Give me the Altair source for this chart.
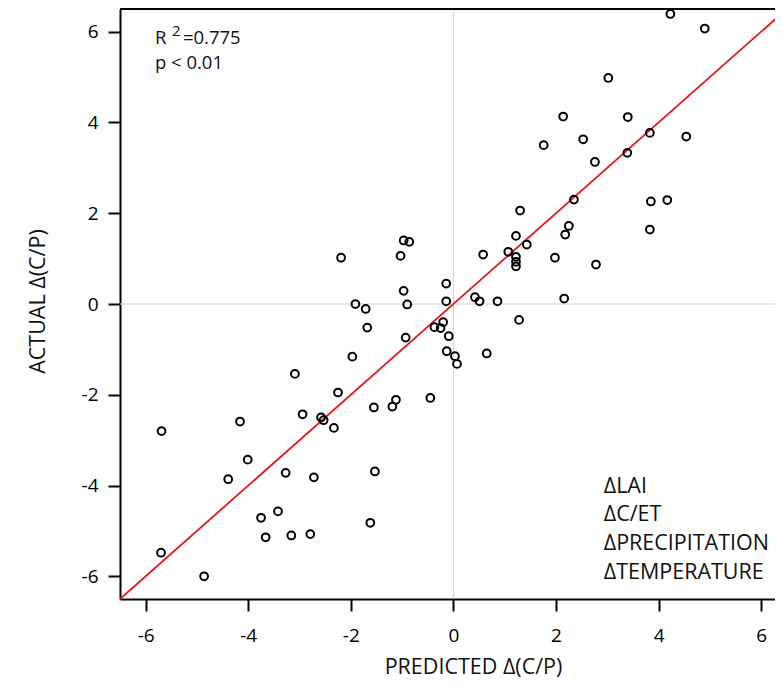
import altair as alt
import pandas as pd

# ---- data ----
predicted = [4.23, 4.90, 3.02, 2.14, 3.40, 3.83, 4.54, 2.53, 1.76, 3.39,
             2.76, 2.35, 3.85, 4.17, 1.30, 2.25, 2.18, 3.83, 1.22, 1.43,
             1.07, 0.58, 1.22, 1.22, 1.22, 1.98, 2.78, 2.16, 0.42, 0.51,
             0.86, 1.28, -0.14, -0.14, -0.97, -0.86, -1.03, -0.97, -0.90, -0.20,
             -0.37, -0.25, -0.09, -0.93, -0.13, 0.03, 0.07, 0.65, -1.12, -1.19,
             -0.45, -2.19, -1.91, -1.71, -1.68, -1.97, -3.09, -2.25, -2.94, -2.58,
             -2.53, -2.33, -1.55, -4.16, -5.69, -4.01, -4.39, -3.27, -2.72, -1.53,
             -3.75, -3.42, -3.66, -3.16, -2.79, -1.62, -5.70, -4.86]
actual = [6.39, 6.07, 4.98, 4.13, 4.12, 3.77, 3.69, 3.63, 3.50, 3.33,
          3.13, 2.30, 2.26, 2.29, 2.06, 1.72, 1.53, 1.64, 1.50, 1.31,
          1.15, 1.09, 1.04, 0.93, 0.83, 1.02, 0.87, 0.12, 0.15, 0.06,
          0.06, -0.35, 0.45, 0.06, 1.40, 1.37, 1.06, 0.29, -0.01, -0.40,
          -0.51, -0.53, -0.71, -0.74, -1.04, -1.15, -1.32, -1.09, -2.11, -2.26,
          -2.07, 1.02, 0.00, -0.11, -0.52, -1.16, -1.54, -1.95, -2.43, -2.50,
          -2.56, -2.73, -2.28, -2.59, -2.80, -3.43, -3.86, -3.72, -3.82, -3.69,
          -4.71, -4.57, -5.14, -5.10, -5.07, -4.82, -5.48, -6.00]

tick_values = [-6, -4, -2, 0, 2, 4, 6]
x_domain = [-6.5, 6.27]
y_domain = [-6.5, 6.5]
one_to_one = [-6.5, 6.5]

legend_labels = ["\u0394LAI", "\u0394C/ET", "\u0394PRECIPITATION", "\u0394TEMPERATURE"]
legend_x = [2.93, 2.93, 2.93, 2.93]
legend_y = [-4.16, -4.78, -5.42, -6.05]

stat_labels = ["R", "2", "=0.775", "p < 0.01"]
stat_x = [-5.82, -5.82, -5.82, -5.82]
stat_y = [5.72, 5.72, 5.72, 5.17]

FONT = "Open Sans"
W, H = 655, 590

pts = pd.DataFrame({"p": predicted, "a": actual})
line_df = pd.DataFrame({"p": one_to_one, "a": one_to_one})
zero_df = pd.DataFrame({"z": [0]})
leg_df = pd.DataFrame({"t": legend_labels, "x": legend_x, "y": legend_y})

xs = alt.Scale(domain=x_domain, nice=False, zero=False)
ys = alt.Scale(domain=y_domain, nice=False, zero=False)

common = dict(values=tick_values, labelExpr="'' + datum.value", grid=False,
              titleBaseline="middle", titleFontSize=21.5, titleFontWeight="normal",
              titleFont=FONT, labelFont=FONT, labelFontSize=19, labelColor="black",
              tickSize=12, tickWidth=2, tickColor="black",
              domainColor="black", domainWidth=2, titleColor="#111")
xaxis = alt.Axis(title="PREDICTED  \u0394(C/P)", titleX=353, titleY=68,
                 labelPadding=15, **common)
yaxis = alt.Axis(title="ACTUAL \u0394(C/P)", titleX=-82, titleY=292,
                 labelPadding=10, **common)

base_x = alt.X("p:Q", scale=xs, axis=xaxis)
base_y = alt.Y("a:Q", scale=ys, axis=yaxis)

vzero = alt.Chart(zero_df).mark_rule(color="#d0d0d0", strokeWidth=1).encode(
    x=alt.X("z:Q", scale=xs))
hzero = alt.Chart(zero_df).mark_rule(color="#d0d0d0", strokeWidth=1).encode(
    y=alt.Y("z:Q", scale=ys))

points = alt.Chart(pts).mark_point(shape="circle", filled=False, color="black",
                                   strokeWidth=2, size=60, opacity=1).encode(
    x=base_x, y=base_y)

line = alt.Chart(line_df).mark_line(color="#e8141c", strokeWidth=1.8, clip=True).encode(
    x=alt.X("p:Q", scale=xs), y=alt.Y("a:Q", scale=ys))

top_border = alt.Chart(zero_df).mark_rule(color="black", strokeWidth=2).encode(
    x=alt.value(0), x2=alt.value(W + 2), y=alt.value(0))

legend = alt.Chart(leg_df).mark_text(align="left", baseline="alphabetic", font=FONT,
                                     fontSize=21.5, color="#111").encode(
    x=alt.X("x:Q", scale=xs), y=alt.Y("y:Q", scale=ys), text="t:N")

def stat_text(i, size, dx, dy=0):
    d = pd.DataFrame({"t": [stat_labels[i]], "x": [stat_x[i]], "y": [stat_y[i]]})
    return alt.Chart(d).mark_text(align="left", baseline="alphabetic", font=FONT,
                                  fontSize=size, color="#111", dx=dx, dy=dy).encode(
        x=alt.X("x:Q", scale=xs), y=alt.Y("y:Q", scale=ys), text="t:N")

stats = stat_text(0, 18.5, 0) + stat_text(1, 15, 17, -8) + stat_text(2, 18.5, 28) + stat_text(3, 18.5, 0)

chart = alt.layer(vzero, hzero, line, points, top_border, legend, stats).properties(
    width=W, height=H,
    autosize=alt.AutoSizeParams(type="none"),
    padding={"left": 112, "top": 1, "right": 0, "bottom": 82},
).configure_view(stroke=None).configure(background="white")

chart.save("out.html", embed_options={"renderer": "svg", "actions": False})
